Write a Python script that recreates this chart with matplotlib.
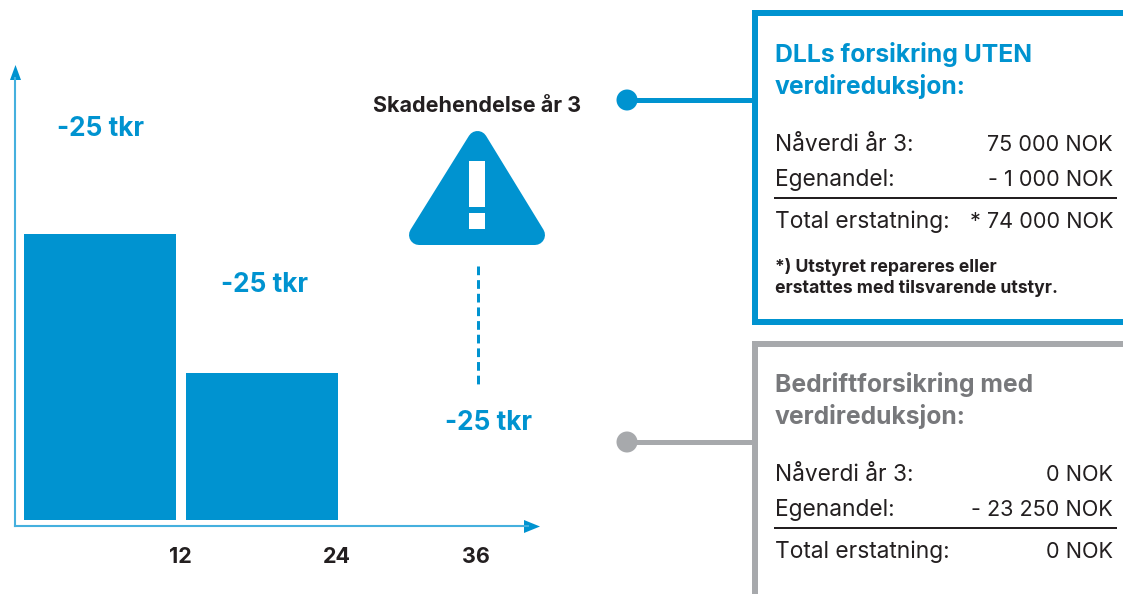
import matplotlib
matplotlib.use("Agg")
import matplotlib.pyplot as plt
from matplotlib.patches import Polygon, Rectangle, Circle

plt.rcParams['font.family'] = ['Inter', 'DejaVu Sans']

months = [0, 12]
values = [50, 25.7]
tick_pos = [11.6, 23.2, 33.5]
tick_labels = ["12", "24", "36"]
loss_label = "-25 tkr"
event_label = "Skadehendelse år 3"

blue_title = ["DLLs forsikring UTEN", "verdireduksjon:"]
blue_left = ["Nåverdi år 3:", "Egenandel:", "Total erstatning:"]
blue_right = ["75 000 NOK", "- 1 000 NOK", "* 74 000 NOK"]
blue_note = ["*) Utstyret repareres eller", "erstattes med tilsvarende utstyr."]

gray_title = ["Bedriftforsikring med", "verdireduksjon:"]
gray_left = ["Nåverdi år 3:", "Egenandel:", "Total erstatning:"]
gray_right = ["0 NOK", "- 23 250 NOK", "0 NOK"]

BLUE = "#0093d0"
GRAY = "#a7a9ac"
DARK = "#231f20"
TITLE_GRAY = "#77787b"
W, H = 1123, 594
PX = 0.72

fig = plt.figure(figsize=(W / 100, H / 100), dpi=100)

# page layer, in pixels
bg = fig.add_axes([0, 0, 1, 1])
bg.set_xlim(0, W)
bg.set_ylim(H, 0)
bg.axis("off")

# bar chart
left, right, top, bottom = 15, 528, 78, 526
ax = fig.add_axes([left / W, 1 - bottom / H, (right - left) / W, (bottom - top) / H])
ax.patch.set_alpha(0)
ax.bar(months, values, width=11.26, align="edge", color=BLUE)
ax.set_xlim(-0.667, 37.33)
ax.set_ylim(-1.05, 77.27)
ax.set_yticks([])
ax.set_xticks(tick_pos, tick_labels, fontsize=15.5, fontweight="bold", color=DARK)
ax.tick_params(axis="x", length=0, pad=15)
for s in ["top", "right"]:
    ax.spines[s].set_visible(False)
for s in ["left", "bottom"]:
    ax.spines[s].set_color("#45b0de")
    ax.spines[s].set_linewidth(1.5)

# axis arrow heads
bg.add_patch(Polygon([(524, 520), (540, 526.5), (524, 533)], closed=True, fc=BLUE, ec="none"))
bg.add_patch(Polygon([(10, 80), (15.5, 65), (21, 80)], closed=True, fc=BLUE, ec="none"))

for x, y in [(57, 136), (221, 292), (445, 430)]:
    bg.text(x, y, loss_label, color=BLUE, fontsize=18.9, fontweight="bold", va="baseline")

# warning sign
bg.text(373, 112, event_label, color=DARK, fontsize=15.5, fontweight="bold", va="baseline")
bg.add_patch(Polygon([(477.5, 141), (419, 235), (535, 235)], closed=True, fc=BLUE, ec=BLUE,
                     lw=20 * PX, joinstyle="round"))
bg.add_patch(Rectangle((469, 161), 16, 46, fc="white", ec="none"))
bg.add_patch(Rectangle((469, 213), 16, 16, fc="white", ec="none"))
bg.plot([478, 478], [266, 384], color=BLUE, lw=3 * PX, ls=(0, (2.9, 1.65)))

# connectors
bg.plot([627, 755], [100, 100], color=BLUE, lw=5 * PX)
bg.add_patch(Circle((627, 100), 10.5, fc=BLUE, ec="none"))
bg.plot([627, 755], [442, 442], color=GRAY, lw=5 * PX)
bg.add_patch(Circle((627, 442), 10.5, fc=GRAY, ec="none"))

# boxes
bg.plot([1130, 755, 755, 1130], [13, 13, 322, 322], color=BLUE, lw=6 * PX, solid_joinstyle="miter")
bg.plot([1130, 755, 755], [344, 344, 600], color=GRAY, lw=6 * PX, solid_joinstyle="miter")


def panel(titles, title_color, title_y, lefts, rights, row_y, rule_y):
    for t, y in zip(titles, title_y):
        bg.text(775, y, t, color=title_color, fontsize=17.8, fontweight="bold", va="baseline")
    for l, r, y in zip(lefts, rights, row_y):
        bg.text(775, y, l, color=DARK, fontsize=16.4, va="baseline")
        bg.text(1113, y, r, color=DARK, fontsize=15.6, va="baseline", ha="right")
    bg.plot([775, 1116], [rule_y, rule_y], color=DARK, lw=2 * PX)


panel(blue_title, BLUE, [62, 94], blue_left, blue_right, [151, 186, 228], 198)
panel(gray_title, TITLE_GRAY, [392, 424], gray_left, gray_right, [481, 516, 558], 528)
for t, y in zip(blue_note, [272, 293]):
    bg.text(775, y, t, color=DARK, fontsize=12.7, fontweight="bold", va="baseline")

fig.savefig("out.png", dpi=100)
